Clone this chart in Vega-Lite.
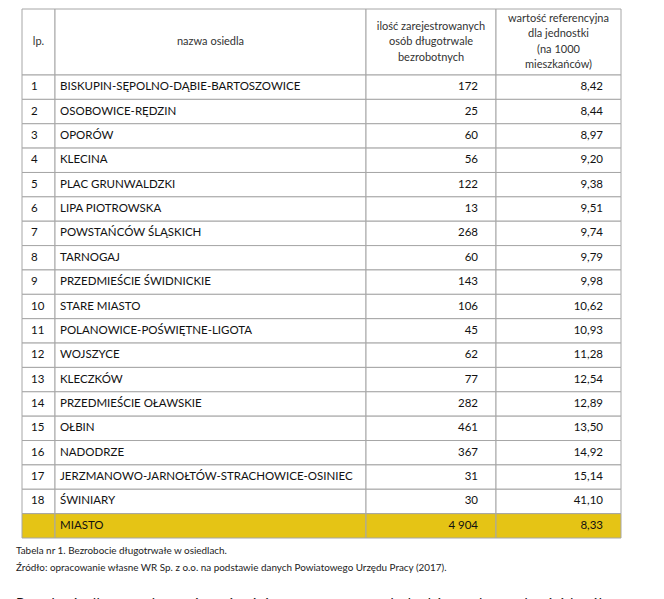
{
  "$schema": "https://vega.github.io/schema/vega-lite/v6.json",
  "padding": {"left": 16, "top": 8, "right": 0, "bottom": 0},
  "bounds": "flush",
  "align": "each",
  "columns": 4,
  "spacing": 0,
  "background": "white",
  "config": {
    "view": {"stroke": null},
    "locale": {"number": {"decimal": ",", "thousands": " ", "grouping": [3], "currency": ["", " zł"]}},
    "text": {"font": "Lato", "fontSize": 11.5, "color": "#111"}
  },
  "datasets": {
    "rows": [
      {"lp": "1", "name": "BISKUPIN-SĘPOLNO-DĄBIE-BARTOSZOWICE", "count": 172, "rate": 8.42},
      {"lp": "2", "name": "OSOBOWICE-RĘDZIN", "count": 25, "rate": 8.44},
      {"lp": "3", "name": "OPORÓW", "count": 60, "rate": 8.97},
      {"lp": "4", "name": "KLECINA", "count": 56, "rate": 9.20},
      {"lp": "5", "name": "PLAC GRUNWALDZKI", "count": 122, "rate": 9.38},
      {"lp": "6", "name": "LIPA PIOTROWSKA", "count": 13, "rate": 9.51},
      {"lp": "7", "name": "POWSTAŃCÓW ŚLĄSKICH", "count": 268, "rate": 9.74},
      {"lp": "8", "name": "TARNOGAJ", "count": 60, "rate": 9.79},
      {"lp": "9", "name": "PRZEDMIEŚCIE ŚWIDNICKIE", "count": 143, "rate": 9.98},
      {"lp": "10", "name": "STARE MIASTO", "count": 106, "rate": 10.62},
      {"lp": "11", "name": "POLANOWICE-POŚWIĘTNE-LIGOTA", "count": 45, "rate": 10.93},
      {"lp": "12", "name": "WOJSZYCE", "count": 62, "rate": 11.28},
      {"lp": "13", "name": "KLECZKÓW", "count": 77, "rate": 12.54},
      {"lp": "14", "name": "PRZEDMIEŚCIE OŁAWSKIE", "count": 282, "rate": 12.89},
      {"lp": "15", "name": "OŁBIN", "count": 461, "rate": 13.50},
      {"lp": "16", "name": "NADODRZE", "count": 367, "rate": 14.92},
      {"lp": "17", "name": "JERZMANOWO-JARNOŁTÓW-STRACHOWICE-OSINIEC", "count": 31, "rate": 15.14},
      {"lp": "18", "name": "ŚWINIARY", "count": 30, "rate": 41.10},
      {"lp": "", "name": "MIASTO", "count": 4904, "rate": 8.33}
    ],
    "captions": [
      {"line": 1, "text": "Tabela nr 1. Bezrobocie długotrwałe w osiedlach."},
      {"line": 2, "text": "Źródło: opracowanie własne WR Sp. z o.o. na podstawie danych Powiatowego Urzędu Pracy (2017)."},
      {"line": 4, "text": "Bezrobocie długotrwałe wywiera również szereg negatywnych skutków społecznych wśród osób"}
    ]
  },
  "concat": [
    {
      "width": 33, "height": 66,
      "data": {"values": [{"h": "lp."}]},
      "encoding": {
        "x": {"field": "h", "type": "nominal", "axis": null, "scale": {"paddingInner": 0, "paddingOuter": 0}},
        "y": {"field": "h", "type": "nominal", "axis": null, "scale": {"paddingInner": 0, "paddingOuter": 0}}
      },
      "layer": [
        {"mark": {"type": "rect", "fill": "white", "stroke": "#A6A6A6", "strokeWidth": 1}},
        {"mark": {"type": "text", "align": "center", "baseline": "middle", "lineBreak": "\n", "lineHeight": 15.5, "fontSize": 11, "color": "#333"},
         "encoding": {"text": {"field": "h"}}}
      ]
    },
    {
      "width": 311, "height": 66,
      "data": {"values": [{"h": "nazwa osiedla"}]},
      "encoding": {
        "x": {"field": "h", "type": "nominal", "axis": null, "scale": {"paddingInner": 0, "paddingOuter": 0}},
        "y": {"field": "h", "type": "nominal", "axis": null, "scale": {"paddingInner": 0, "paddingOuter": 0}}
      },
      "layer": [
        {"mark": {"type": "rect", "fill": "white", "stroke": "#A6A6A6", "strokeWidth": 1}},
        {"mark": {"type": "text", "align": "center", "baseline": "middle", "lineBreak": "\n", "lineHeight": 15.5, "fontSize": 11, "color": "#333"},
         "encoding": {"text": {"field": "h"}}}
      ]
    },
    {
      "width": 130, "height": 66,
      "data": {"values": [{"h": "ilość zarejestrowanych\nosób długotrwale\nbezrobotnych"}]},
      "encoding": {
        "x": {"field": "h", "type": "nominal", "axis": null, "scale": {"paddingInner": 0, "paddingOuter": 0}},
        "y": {"field": "h", "type": "nominal", "axis": null, "scale": {"paddingInner": 0, "paddingOuter": 0}}
      },
      "layer": [
        {"mark": {"type": "rect", "fill": "white", "stroke": "#A6A6A6", "strokeWidth": 1}},
        {"mark": {"type": "text", "align": "center", "baseline": "middle", "lineBreak": "\n", "lineHeight": 15.5, "dy": -15.5, "fontSize": 11, "color": "#333"},
         "encoding": {"text": {"field": "h"}}}
      ]
    },
    {
      "width": 125, "height": 66,
      "data": {"values": [{"h": "wartość referencyjna\ndla jednostki\n(na 1000\nmieszkańców)"}]},
      "encoding": {
        "x": {"field": "h", "type": "nominal", "axis": null, "scale": {"paddingInner": 0, "paddingOuter": 0}},
        "y": {"field": "h", "type": "nominal", "axis": null, "scale": {"paddingInner": 0, "paddingOuter": 0}}
      },
      "layer": [
        {"mark": {"type": "rect", "fill": "white", "stroke": "#A6A6A6", "strokeWidth": 1}},
        {"mark": {"type": "text", "align": "center", "baseline": "middle", "lineBreak": "\n", "lineHeight": 15.5, "dy": -23.5, "fontSize": 11, "color": "#333"},
         "encoding": {"text": {"field": "h"}}}
      ]
    },
    {
      "width": 33, "height": 463,
      "data": {"name": "rows"},
      "encoding": {"y": {"field": "name", "type": "nominal", "sort": null, "axis": null, "scale": {"paddingInner": 0, "paddingOuter": 0}}},
      "layer": [
        {"mark": {"type": "rect", "stroke": "#A6A6A6", "strokeWidth": 1},
         "encoding": {"x": {"value": 0}, "x2": {"value": "width"},
           "fill": {"condition": {"test": "datum.name === 'MIASTO'", "value": "#E5C415"}, "value": "white"}}},
        {"mark": {"type": "text", "align": "left", "baseline": "middle", "dx": 9},
         "encoding": {"x": {"value": 0}, "text": {"field": "lp", "type": "nominal"}}}
      ]
    },
    {
      "width": 311, "height": 463,
      "data": {"name": "rows"},
      "encoding": {"y": {"field": "name", "type": "nominal", "sort": null, "axis": null, "scale": {"paddingInner": 0, "paddingOuter": 0}}},
      "layer": [
        {"mark": {"type": "rect", "stroke": "#A6A6A6", "strokeWidth": 1},
         "encoding": {"x": {"value": 0}, "x2": {"value": "width"},
           "fill": {"condition": {"test": "datum.name === 'MIASTO'", "value": "#E5C415"}, "value": "white"}}},
        {"mark": {"type": "text", "align": "left", "baseline": "middle", "dx": 5},
         "encoding": {"x": {"value": 0}, "text": {"field": "name", "type": "nominal"},
           "fontWeight": {"condition": {"test": "datum.name === 'MIASTO'", "value": "bold"}, "value": "normal"}}}
      ]
    },
    {
      "width": 130, "height": 463,
      "data": {"name": "rows"},
      "encoding": {"y": {"field": "name", "type": "nominal", "sort": null, "axis": null, "scale": {"paddingInner": 0, "paddingOuter": 0}}},
      "layer": [
        {"mark": {"type": "rect", "stroke": "#A6A6A6", "strokeWidth": 1},
         "encoding": {"x": {"value": 0}, "x2": {"value": "width"},
           "fill": {"condition": {"test": "datum.name === 'MIASTO'", "value": "#E5C415"}, "value": "white"}}},
        {"mark": {"type": "text", "align": "right", "baseline": "middle", "dx": -18},
         "encoding": {"x": {"value": "width"}, "text": {"field": "count", "type": "quantitative", "format": ",d"},
           "fontWeight": {"condition": {"test": "datum.name === 'MIASTO'", "value": "bold"}, "value": "normal"}}}
      ]
    },
    {
      "width": 125, "height": 463,
      "data": {"name": "rows"},
      "encoding": {"y": {"field": "name", "type": "nominal", "sort": null, "axis": null, "scale": {"paddingInner": 0, "paddingOuter": 0}}},
      "layer": [
        {"mark": {"type": "rect", "stroke": "#A6A6A6", "strokeWidth": 1},
         "encoding": {"x": {"value": 0}, "x2": {"value": "width"},
           "fill": {"condition": {"test": "datum.name === 'MIASTO'", "value": "#E5C415"}, "value": "white"}}},
        {"mark": {"type": "text", "align": "right", "baseline": "middle", "dx": -18},
         "encoding": {"x": {"value": "width"}, "text": {"field": "rate", "type": "quantitative", "format": ",.2f"},
           "fontWeight": {"condition": {"test": "datum.name === 'MIASTO'", "value": "bold"}, "value": "normal"}}}
      ]
    },
    {
      "width": 33, "height": 68,
      "data": {"name": "captions"},
      "encoding": {
        "x": {"value": 0},
        "y": {"field": "line", "type": "ordinal", "axis": null, "scale": {"domain": [1, 2, 3, 4], "paddingInner": 0, "paddingOuter": 0}},
        "text": {"field": "text", "type": "nominal"}
      },
      "layer": [
        {"transform": [{"filter": "datum.line < 3"}],
         "mark": {"type": "text", "align": "left", "baseline": "middle", "dx": -6, "dy": 4, "fontSize": 9.9, "color": "#222"}},
        {"transform": [{"filter": "datum.line === 4"}],
         "mark": {"type": "text", "align": "left", "baseline": "alphabetic", "dx": -6, "dy": 10.5, "fontSize": 14, "color": "#111"}}
      ]
    }
  ]
}
